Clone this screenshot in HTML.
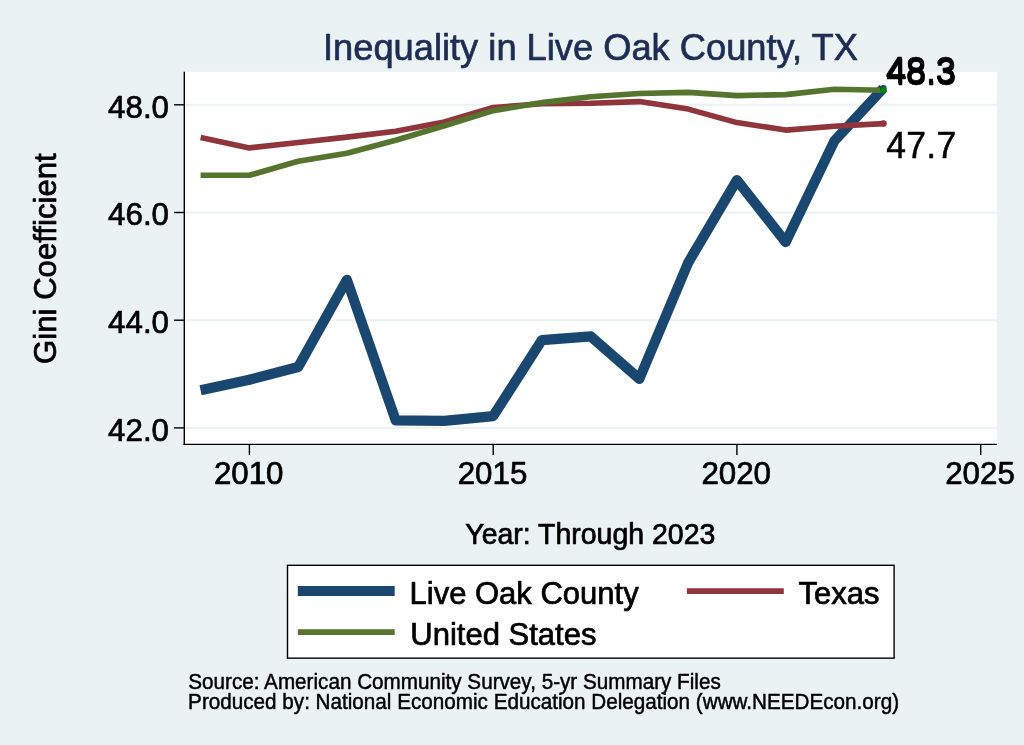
<!DOCTYPE html>
<html lang="en">
<head>
<meta charset="utf-8">
<title>Inequality in Live Oak County, TX</title>
<style>
html,body{margin:0;padding:0;background:#eaf2f3;}
body{width:1024px;height:745px;overflow:hidden;}
svg{display:block;}
text{font-family:"Liberation Sans", Arial, Helvetica, sans-serif;fill:#000;stroke:#000;stroke-width:0.7px;stroke-linejoin:round;}
</style>
</head>
<body>
<svg width="1024" height="745" viewBox="0 0 1024 745">
<rect x="0" y="0" width="1024" height="745" fill="#eaf2f3"/>
<rect x="184.3" y="71.8" width="812.6" height="372.6" fill="#ffffff"/>
<line x1="184.3" x2="996.9" y1="427.9" y2="427.9" stroke="#eaf2f3" stroke-width="1.9"/>
<line x1="184.3" x2="996.9" y1="320.2" y2="320.2" stroke="#eaf2f3" stroke-width="1.9"/>
<line x1="184.3" x2="996.9" y1="212.5" y2="212.5" stroke="#eaf2f3" stroke-width="1.9"/>
<line x1="184.3" x2="996.9" y1="104.8" y2="104.8" stroke="#eaf2f3" stroke-width="1.9"/>
<polyline points="200.6,390.2 249.4,379.7 298.2,367.0 346.9,279.8 395.7,420.4 444.4,420.9 493.2,416.1 541.9,340.1 590.7,336.4 639.4,378.9 688.2,262.6 736.9,180.2 785.7,242.1 834.4,140.9 883.2,88.4" fill="none" stroke="#1a476f" stroke-width="10.2" stroke-linejoin="round"/>
<polyline points="200.6,137.6 249.4,147.9 298.2,142.5 346.9,137.1 395.7,131.2 444.4,122.0 493.2,107.5 541.9,103.7 590.7,103.2 639.4,101.6 688.2,109.1 736.9,122.6 785.7,130.1 834.4,126.3 883.2,123.6" fill="none" stroke="#90353b" stroke-width="5.6" stroke-linejoin="round"/>
<polyline points="200.6,175.3 249.4,175.3 298.2,161.3 346.9,153.3 395.7,140.3 444.4,125.8 493.2,110.7 541.9,102.6 590.7,96.7 639.4,93.5 688.2,92.4 736.9,95.6 785.7,94.6 834.4,89.2 883.2,90.3" fill="none" stroke="#55752f" stroke-width="5.6" stroke-linejoin="round"/>
<circle cx="883.3" cy="88.4" r="3.3" fill="#1a476f"/>
<circle cx="883.5" cy="123.6" r="3.3" fill="#90353b"/>
<circle cx="883.4" cy="90.3" r="3.3" fill="#008000"/>
<line x1="184.3" x2="184.3" y1="71.8" y2="445.1" stroke="#000" stroke-width="1.4"/>
<line x1="183.6" x2="996.9" y1="444.4" y2="444.4" stroke="#000" stroke-width="1.4"/>
<line x1="174.1" x2="184.3" y1="427.9" y2="427.9" stroke="#000" stroke-width="1.4"/>
<text x="169.0" y="440.7" font-size="31.3" text-anchor="end">42.0</text>
<line x1="174.1" x2="184.3" y1="320.2" y2="320.2" stroke="#000" stroke-width="1.4"/>
<text x="169.0" y="333.0" font-size="31.3" text-anchor="end">44.0</text>
<line x1="174.1" x2="184.3" y1="212.5" y2="212.5" stroke="#000" stroke-width="1.4"/>
<text x="169.0" y="225.3" font-size="31.3" text-anchor="end">46.0</text>
<line x1="174.1" x2="184.3" y1="104.8" y2="104.8" stroke="#000" stroke-width="1.4"/>
<text x="169.0" y="117.6" font-size="31.3" text-anchor="end">48.0</text>
<line x1="249.4" x2="249.4" y1="444.4" y2="454.9" stroke="#000" stroke-width="1.4"/>
<text x="248.7" y="484" font-size="31.3" text-anchor="middle">2010</text>
<line x1="493.2" x2="493.2" y1="444.4" y2="454.9" stroke="#000" stroke-width="1.4"/>
<text x="492.5" y="484" font-size="31.3" text-anchor="middle">2015</text>
<line x1="736.9" x2="736.9" y1="444.4" y2="454.9" stroke="#000" stroke-width="1.4"/>
<text x="736.2" y="484" font-size="31.3" text-anchor="middle">2020</text>
<line x1="980.7" x2="980.7" y1="444.4" y2="454.9" stroke="#000" stroke-width="1.4"/>
<text x="980.0" y="484" font-size="31.3" text-anchor="middle">2025</text>
<text transform="translate(886.1,83) scale(1,1.04)" font-size="35.8">48.3</text>
<text transform="translate(886.4,85) scale(1,1.04)" font-size="35.8">48.3</text>
<text transform="translate(886.2,158) scale(1,1.03)" font-size="35.5" letter-spacing="0.35" style="stroke-width:0.5px">47.7</text>
<text x="590.45" y="59.6" font-size="36.28" text-anchor="middle" style="fill:#1e2d53;stroke:#1e2d53">Inequality in Live Oak County, TX</text>
<text transform="translate(56.0,258.6) rotate(-90) scale(1,1.01)" font-size="31.15" text-anchor="middle">Gini Coefficient</text>
<text transform="translate(590.3,544) scale(1,1.03)" font-size="28.47" text-anchor="middle">Year: Through 2023</text>
<rect x="287.5" y="565.3" width="606.6" height="92.85" fill="#fff" stroke="#000" stroke-width="1.4"/>
<line x1="297.8" x2="394.7" y1="591.0" y2="591.0" stroke="#1a476f" stroke-width="10.0"/>
<line x1="297.8" x2="394.7" y1="632.2" y2="632.2" stroke="#55752f" stroke-width="5.8"/>
<line x1="686.9" x2="783.8" y1="591.1" y2="591.1" stroke="#90353b" stroke-width="5.8"/>
<text x="409.5" y="604.05" font-size="31">Live Oak County</text>
<text x="410.3" y="644.75" font-size="31">United States</text>
<text x="798.5" y="604.05" font-size="31">Texas</text>
<text transform="translate(188.3,689) scale(1,1.05)" font-size="20.68" style="stroke-width:0.45px">Source: American Community Survey, 5-yr Summary Files</text>
<text transform="translate(188.1,709) scale(1,1.05)" font-size="20.68" style="stroke-width:0.45px">Produced by: National Economic Education Delegation (www.NEEDEcon.org)</text>
</svg>
</body>
</html>
